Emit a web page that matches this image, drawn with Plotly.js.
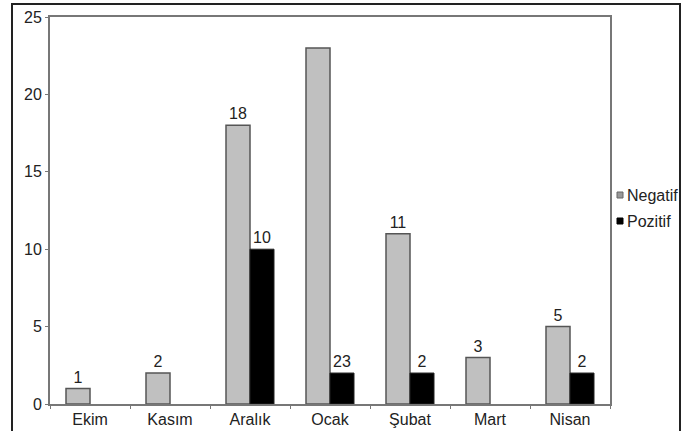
<!DOCTYPE html>
<html><head><meta charset="utf-8">
<script src="https://cdn.plot.ly/plotly-3.0.1.min.js"></script>
<style>html,body{margin:0;padding:0;background:#fff;}#chart{width:685px;height:431px;}</style>
</head><body><div id="chart"></div>
<script>
const categories = ["Ekim", "Kasım", "Aralık", "Ocak", "Şubat", "Mart", "Nisan"];
const negatif = [1, 2, 18, 23, 11, 3, 5];
const pozitif = [0, 0, 10, 2, 2, 0, 2];
const negatifLabels = ["1", "2", "18", "", "11", "3", "5"];
const pozitifLabels = ["", "", "10", "23", "2", "", "2"];
const seriesNames = ["Negatif", "Pozitif"];
const yTicks = [0, 5, 10, 15, 20, 25];

const lblFont = {family: "Liberation Sans, Arial, Helvetica, sans-serif", size: 16, color: "#222"};

const traces = [
  {type: "bar", name: seriesNames[0], x: categories, y: negatif, text: negatifLabels,
   textposition: "outside", constraintext: "none", textfont: lblFont, cliponaxis: false, showlegend: false,
   marker: {color: "#c0c0c0", line: {color: "#555", width: 1.5}}},
  {type: "bar", name: seriesNames[1], x: categories, y: pozitif, text: pozitifLabels,
   textposition: "outside", constraintext: "none", textfont: lblFont, cliponaxis: false, showlegend: false,
   marker: {color: "#000", line: {color: "#222", width: pozitif.map(v => v ? 1 : 0)}}}
];

// "paper" area spans pixels x 8..684, y 0..431
const L = 8, T = 0, W = 676, H = 431;
const px = v => (v - L) / W;
const py = v => (T + H - v) / H;

const layout = {
  width: 685, height: 431,
  margin: {l: L, r: 685 - L - W, t: T, b: 0, pad: 0},
  paper_bgcolor: "#fff", plot_bgcolor: "rgba(0,0,0,0)",
  barmode: "group", bargap: 0.4, bargroupgap: 0,
  font: lblFont,
  xaxis: {type: "category", domain: [px(50), px(610)], showline: true, linecolor: "#777", linewidth: 2, mirror: true,
          ticks: "outside", tickson: "boundaries", ticklen: 3, tickcolor: "#777",
          showgrid: false, tickfont: lblFont, fixedrange: true},
  yaxis: {range: [0, 25], domain: [py(404), py(17)], tickvals: yTicks, showline: true, linecolor: "#777", linewidth: 2,
          mirror: true, ticks: "outside", ticklen: 3, tickcolor: "#777", showgrid: false,
          zeroline: false, tickfont: lblFont, fixedrange: true},
  showlegend: false,
  shapes: [
    {type: "rect", layer: "above", xref: "paper", yref: "paper", x0: px(12), x1: px(680), y0: py(440), y1: py(4),
     fillcolor: "rgba(0,0,0,0)", line: {color: "#222", width: 2}},
    {type: "rect", xref: "paper", yref: "paper", x0: px(617), x1: px(623), y0: py(192), y1: py(198), fillcolor: "#999", line: {color: "#666", width: 1}},
    {type: "rect", xref: "paper", yref: "paper", x0: px(617), x1: px(623), y0: py(218), y1: py(224), fillcolor: "#000", line: {color: "#000", width: 1}}
  ],
  annotations: [
    {xref: "paper", yref: "paper", x: px(625), y: py(195), text: seriesNames[0], showarrow: false, xanchor: "left", yanchor: "middle", font: lblFont},
    {xref: "paper", yref: "paper", x: px(625), y: py(221), text: seriesNames[1], showarrow: false, xanchor: "left", yanchor: "middle", font: lblFont}
  ]
};

Plotly.newPlot("chart", traces, layout, {displayModeBar: false, staticPlot: true});
</script></body></html>
